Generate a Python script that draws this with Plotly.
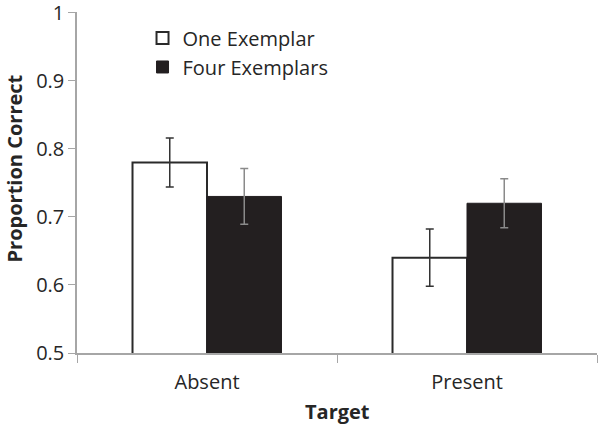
import plotly.graph_objects as go

targets = ["Absent", "Present"]
one_exemplar = [0.78, 0.64]
one_err = [0.036, 0.042]
four_exemplars = [0.73, 0.72]
four_err = [0.041, 0.036]
y_ticks = [0.5, 0.6, 0.7, 0.8, 0.9, 1.0]
y_ticktext = ["0.5", "0.6", "0.7", "0.8", "0.9", "1"]

FONT = "Open Sans"
TXT = "#262626"

fig = go.Figure()
fig.add_trace(go.Bar(
    x=targets, y=one_exemplar, name="One Exemplar",
    marker=dict(color="white", line=dict(color="#2a2a2a", width=2)),
    error_y=dict(type="data", array=one_err, color="#333333", thickness=1.5, width=4),
))
fig.add_trace(go.Bar(
    x=targets, y=four_exemplars, name="Four Exemplars",
    marker=dict(color="#231f20", line=dict(color="#231f20", width=1)),
    error_y=dict(type="data", array=four_err, color="#8a8a8a", thickness=1.5, width=4),
))

fig.update_layout(
    width=602, height=426,
    margin=dict(l=77, r=5, t=12, b=73),
    paper_bgcolor="white", plot_bgcolor="white",
    barmode="group", bargap=0.427, bargroupgap=0,
    font=dict(family=FONT, size=20, color=TXT),
    showlegend=True,
    legend=dict(x=0.126, y=0.981, xanchor="left", yanchor="top",
                font=dict(size=20, color=TXT), bgcolor="rgba(0,0,0,0)",
                tracegroupgap=0, itemwidth=30),
)

fig.update_yaxes(
    range=[0.5, 1.001], tickvals=y_ticks, ticktext=y_ticktext,
    ticklabeloverflow="allow", automargin=False,
    showgrid=False, zeroline=False,
    showline=True, linecolor="#a6a6a6", linewidth=1.5,
    ticks="outside", ticklen=7, tickcolor="#a6a6a6",
    tickfont=dict(size=20, color=TXT),
)
fig.update_xaxes(
    range=[-0.5, 1.5], showgrid=False, zeroline=False, automargin=False,
    showline=True, linecolor="#a6a6a6", linewidth=1.5,
    ticks="outside", tickson="boundaries", ticklen=8, tickcolor="#a6a6a6",
    tickfont=dict(size=20, color=TXT), ticklabelstandoff=10,
)

fig.add_annotation(text="<b>Proportion Correct</b>", textangle=-90,
                   xref="paper", yref="paper", x=-0.12, y=0.54,
                   xanchor="center", yanchor="middle", showarrow=False,
                   font=dict(size=20, color=TXT))
fig.add_annotation(text="<b>Target</b>",
                   xref="paper", yref="paper", x=0.5, y=-0.172,
                   xanchor="center", yanchor="middle", showarrow=False,
                   font=dict(size=20, color=TXT))

# drop the browser's default body margin so the figure sits at the page corner
fig.write_html("out.html", config={"displayModeBar": False},
               post_script="document.body.style.margin='0';")
